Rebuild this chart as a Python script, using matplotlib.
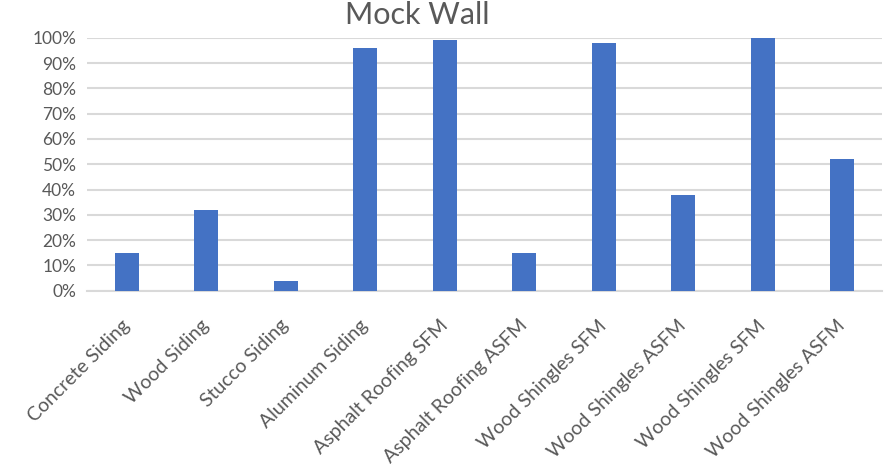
import numpy as np
import matplotlib.pyplot as plt
from matplotlib.ticker import PercentFormatter

categories = ['Concrete Siding', 'Wood Siding', 'Stucco Siding', 'Aluminum Siding',
              'Asphalt Roofing SFM', 'Asphalt Roofing ASFM', 'Wood Shingles SFM',
              'Wood Shingles ASFM', 'Wood Shingles SFM', 'Wood Shingles ASFM']
values = [15, 32, 4, 96, 99, 15, 98, 38, 100, 52]
yticks = [0, 10, 20, 30, 40, 50, 60, 70, 80, 90, 100]

plt.rcParams['font.family'] = ['Lato', 'DejaVu Sans']
grey = '#595959'

fig = plt.figure(figsize=(8.89, 4.66), dpi=100)
ax = fig.add_axes([0.098, 0.376, 0.894, 0.543])

x = np.arange(len(categories))
ax.bar(x, values, width=0.3, color='#4472C4', zorder=3)

ax.set_xlim(-0.5, len(categories) - 0.5)
ax.set_ylim(0, 100)
ax.set_yticks(yticks)
ax.yaxis.set_major_formatter(PercentFormatter(decimals=0))
ax.grid(axis='y', color='#d9d9d9', linewidth=1.5, zorder=0)

ax.set_xticks(x)
ax.set_xticklabels(categories, rotation=45, ha='right', va='center',
                   rotation_mode='anchor', fontsize=14)
ax.tick_params(axis='both', length=0, colors=grey)
ax.tick_params(axis='y', labelsize=12.5, pad=8)
ax.tick_params(axis='x', pad=23)

for side in ['top', 'right', 'left']:
    ax.spines[side].set_visible(False)
ax.spines['bottom'].set_color('#d9d9d9')
ax.spines['bottom'].set_linewidth(1.5)

fig.suptitle('Mock Wall', x=0.469, y=0.998, fontsize=22, color=grey)

plt.savefig('out.png', dpi=100)
